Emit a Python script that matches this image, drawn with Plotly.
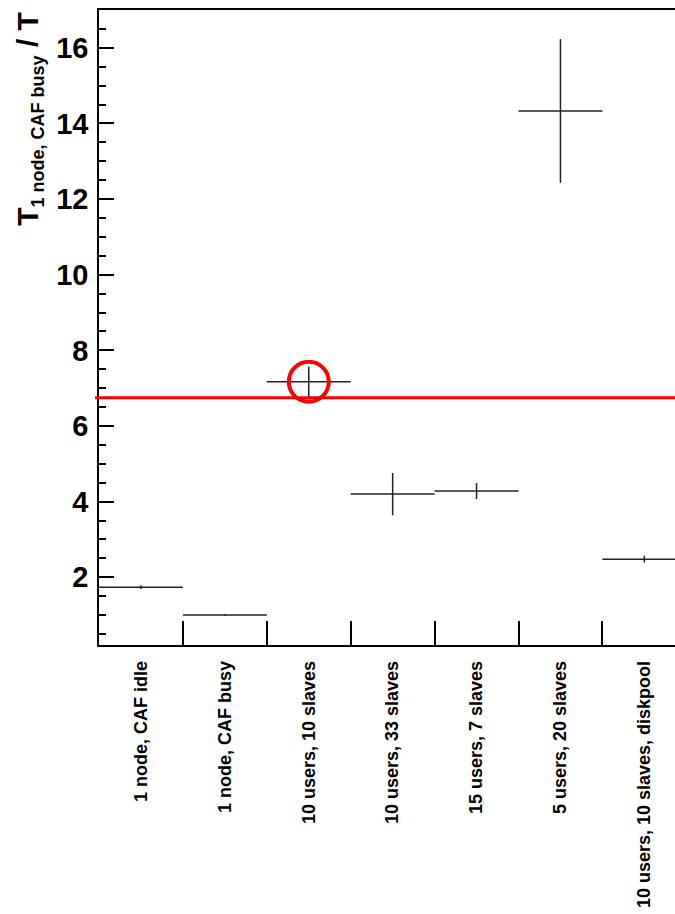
import plotly.graph_objects as go

categories = ["1 node, CAF idle", "1 node, CAF busy", "10 users, 10 slaves",
              "10 users, 33 slaves", "15 users, 7 slaves", "5 users, 20 slaves",
              "10 users, 10 slaves, diskpool"]
ratio = [1.74, 1.0, 7.17, 4.2, 4.28, 14.33, 2.48]
ratio_err = [0.05, 0.02, 0.4, 0.56, 0.21, 1.9, 0.09]
reference_level = 6.75
highlight_index = 2

FONT = "Liberation Sans, Arial, Helvetica, sans-serif"
bin_centers = [i + 0.5 for i in range(len(categories))]
bin_edges = list(range(1, len(categories) + 1))

fig = go.Figure()
fig.add_trace(go.Scatter(
    x=bin_centers, y=ratio, mode="markers",
    marker=dict(size=1, color="rgba(0,0,0,0)"),
    error_x=dict(type="constant", value=0.5, width=0, thickness=1.5, color="#222"),
    error_y=dict(type="data", array=ratio_err, width=0, thickness=1.5, color="#222"),
    showlegend=False, hoverinfo="skip"))

fig.add_shape(type="line", xref="paper", yref="y", x0=-4/576, x1=1,
              y0=reference_level, y1=reference_level,
              line=dict(color="#ff0000", width=3))
fig.add_shape(type="circle", xref="x", yref="y", xsizemode="pixel", ysizemode="pixel",
              xanchor=bin_centers[highlight_index], yanchor=ratio[highlight_index],
              x0=-20, x1=20, y0=-20, y1=20,
              line=dict(color="#ff0000", width=4))

fig.add_annotation(
    text='<b>T<sub><span style="font-size:18px">1 node, CAF busy</span></sub> / T</b>',
    xref="paper", yref="paper", x=-0.122, y=1.0, xanchor="center", yanchor="top",
    textangle=-90, showarrow=False,
    font=dict(family=FONT, size=30, color="black"))

fig.update_layout(
    width=675, height=914,
    margin=dict(l=99, r=0, t=10, b=269, autoexpand=False),
    plot_bgcolor="white", paper_bgcolor="white",
    font=dict(family=FONT, color="black"),
    xaxis=dict(range=[0, 576/83.9], tickmode="array", tickvals=bin_centers,
               ticktext=[f"<b>{c}</b>" for c in categories], tickangle=-90,
               ticks="", showgrid=False, zeroline=False, automargin=False,
               showline=True, linecolor="black", linewidth=1.5, mirror=True,
               tickfont=dict(family=FONT, size=18, color="black"),
               ticklabelstandoff=7,
               minor=dict(tickmode="array", tickvals=bin_edges, ticks="inside",
                          ticklen=24, tickwidth=1.5, tickcolor="black", showgrid=False)),
    yaxis=dict(range=[0.21, 17.0], tickmode="linear", tick0=0, dtick=2,
               ticks="inside", ticklen=15, tickwidth=1.5, tickcolor="black",
               showgrid=False, zeroline=False, automargin=False,
               showline=True, linecolor="black", linewidth=1.5,
               tickfont=dict(family=FONT, size=29, color="black"),
               tickprefix="<b>", ticksuffix="</b>",
               ticklabelstandoff=3,
               minor=dict(dtick=0.5, ticks="inside", ticklen=7, tickwidth=1.5,
                          tickcolor="black", showgrid=False)),
)

fig.write_html("out.html", config={"displayModeBar": False},
               post_script="document.body.style.margin='0';document.body.style.overflow='hidden';")
